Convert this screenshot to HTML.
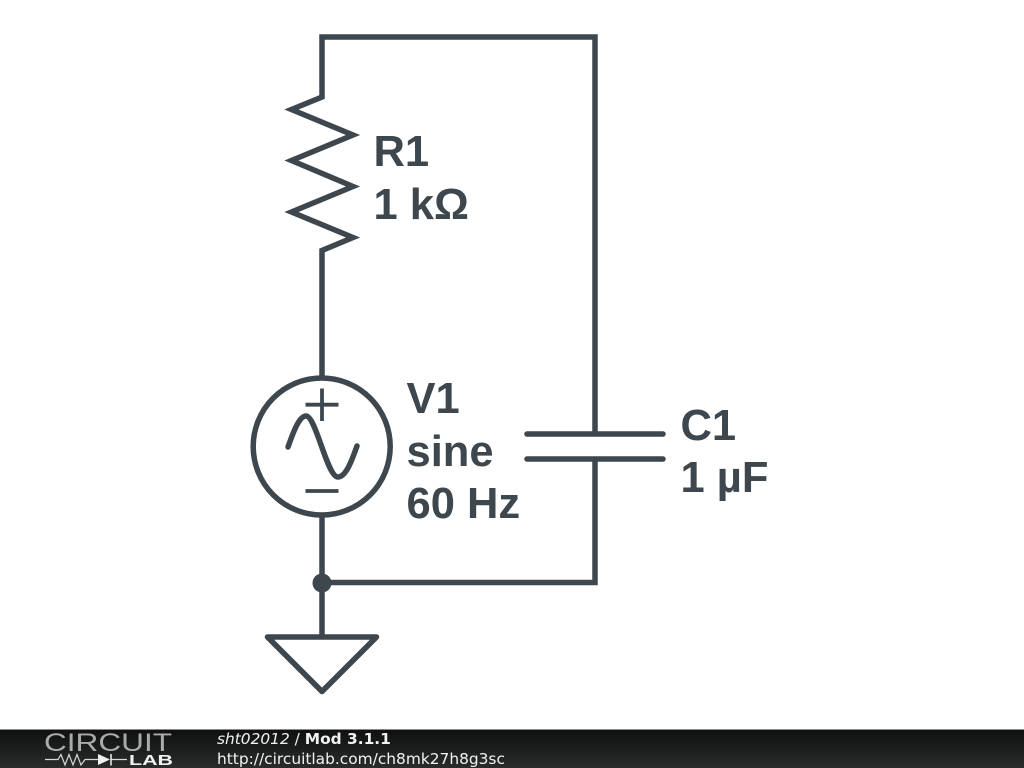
<!DOCTYPE html>
<html>
<head>
<meta charset="utf-8">
<style>
html,body{margin:0;padding:0;background:#fff;width:1024px;height:768px;overflow:hidden}
svg{display:block}
</style>
</head>
<body>
<svg width="1024" height="768" viewBox="0 0 1024 768" xmlns="http://www.w3.org/2000/svg">
<defs>
<linearGradient id="bar" x1="0" y1="0" x2="0" y2="1">
<stop offset="0" stop-color="#0e0f0f"/>
<stop offset="0.5" stop-color="#1c1d1d"/>
<stop offset="1" stop-color="#2a2b2b"/>
</linearGradient>
</defs>
<rect width="1024" height="768" fill="#fff"/>
<g fill="none" stroke="#3d474d" stroke-width="5.500" stroke-linecap="butt" stroke-linejoin="miter">
<path d="M322 517V637"/>
<path d="M595 434V37H322V97L291.500 109.500L353 135L291.500 160.500L353 186.500L291.500 212L353 237.500L322 250.500V376"/>
<path d="M595 459V582.500H322"/>
<path d="M527 434H663M527 459H663" stroke-linecap="round"/>
<circle cx="321.700" cy="446.500" r="68.500"/>
<path d="M288 447C293 433 299 416 306 416C316 416 327 477 338 477C346 477 352 460 357 446" stroke-linecap="round"/>
<path d="M305.500 404.700H338.500M322 388.500V421M305.500 491H338.500" stroke-width="3.800"/>
<path d="M267.500 637H376.500L322 691.500Z" stroke-linejoin="round"/>
</g>
<circle cx="322" cy="583" r="9.500" fill="#3d474d"/>
<g font-family="'Liberation Sans',sans-serif" font-weight="700" font-size="43.500" fill="#3d474d">
<text x="373.500" y="166">R1</text>
<text x="373.500" y="219">1 kΩ</text>
<text x="406.500" y="413">V1</text>
<text x="406.500" y="466">sine</text>
<text x="406.500" y="518">60 Hz</text>
<text x="680.500" y="440">C1</text>
<text x="680.500" y="492">1 µF</text>
</g>
<rect x="0" y="729" width="1024" height="39" fill="url(#bar)"/>
<rect x="0" y="729" width="1024" height="1" fill="#8a8a8a"/>
<text x="44" y="751" font-family="'Liberation Sans',sans-serif" font-size="25" fill="#d0d0d0" textLength="128" lengthAdjust="spacingAndGlyphs" opacity="0.8">CIRCUIT</text>
<text x="129" y="765" font-family="'Liberation Sans',sans-serif" font-weight="700" font-size="15" fill="#f0f0f0" textLength="44" lengthAdjust="spacingAndGlyphs">LAB</text>
<path d="M45 759.500H58L61 754.500L65 765L69 754.500L73 765L77 754.500L81 765L85 759.500H99M111 759.500H127" fill="none" stroke="#d8d8d8" stroke-width="1.200"/>
<path d="M98 754L110 759.500L98 765Z" fill="#f0f0f0"/>
<path d="M111 754V765.500" stroke="#f0f0f0" stroke-width="1.500"/>
<text x="217" y="744" font-family="'DejaVu Sans',sans-serif" font-size="15.400" fill="#f2f2f2"><tspan font-style="italic">sht02012</tspan> / <tspan font-weight="700">Mod 3.1.1</tspan></text>
<text x="217" y="764" font-family="'DejaVu Sans',sans-serif" font-size="15.400" fill="#f2f2f2">http://circuitlab.com/ch8mk27h8g3sc</text>
</svg>
</body>
</html>
